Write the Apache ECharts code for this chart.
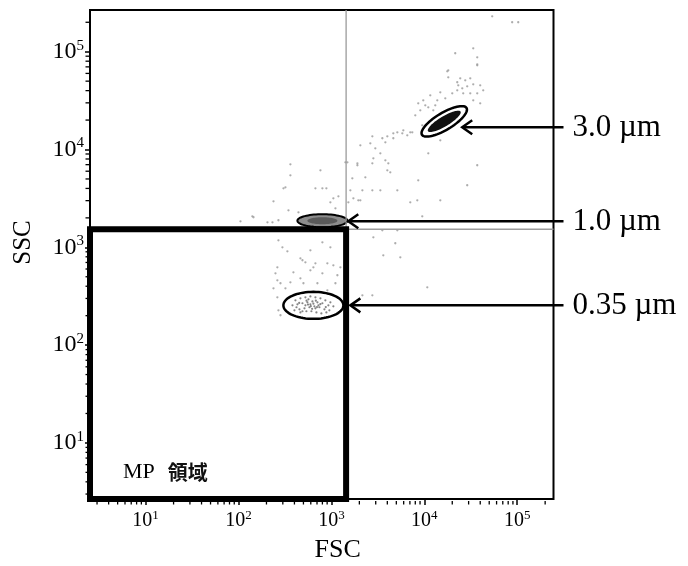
<!DOCTYPE html>
<html><head><meta charset="utf-8">
<script src="https://cdn.jsdelivr.net/npm/echarts@6/dist/echarts.min.js"></script>
<style>html,body{margin:0;padding:0;background:#fff}#c{width:688px;height:566px}</style>
</head><body><div id="c"></div>
<script>
// ---- axis ranges and ticks ----
const X_MIN = 2.52, X_MAX = 246000;
const Y_MIN = 2.67, Y_MAX = 267000;
const minorTickValues = [3,4,5,6,7,8,9,20,30,40,50,60,70,80,90,200,300,400,500,600,700,800,900,
  2000,3000,4000,5000,6000,7000,8000,9000,20000,30000,40000,50000,60000,70000,80000,90000,200000];

// ---- gates ----
const GATE_FSC = 1440, GATE_SSC = 1530;
const gateLabel = ['MP', '領域'];

// ---- bead populations ----
const beadLabels = ['3.0 µm', '1.0 µm', '0.35 µm'];
const beadFSC = [16400, 800, 640];
const beadSSC = [19400, 1870, 255];
const arrowTipFSC = [25600, 1520, 1600];
const arrowSSC = [16900, 1845, 255];

// ---- events (FSC, SSC) ----
const sparseEvents = [
  [362,7060],[362,5450],[305,4010],[238,2955],[762,6130],[800,4010],[883,4010],[1050,3170],[1190,3320],
  [975,2885],[1105,2505],[345,2390],[442,2280],[141,2075],[105,1845],[232,1800],[269,1890],[145,2030],
  [205,1800],[1415,7400],[1905,7230],[1680,5080],[1950,3025],[1523,2885],[673,4010],[320,4105],
  [269,1180],[297,1000],[336,910],[800,1125],[975,1000],[594,931],[464,772],[525,703],[673,686],
  [905,686],[1050,655],[250,542],[390,555],[594,582],[800,542],[1160,518],[283,429],[362,439],[500,429],
  [707,429],[1105,429],[238,381],[905,363],[262,308],[269,227],[283,202],[488,737],[640,625],[1250,625],
  [262,625],[262,460],[464,482],[320,381],
  [2760,13650],[3535,13030],[4000,13650],[4640,14640],[5800,14640],[6560,13970],[7430,14990],[3810,11850],
  [2050,11040],[2625,11570],[2970,10290],[3365,9150],[2830,8130],[3810,7760],[4100,7230],[1905,6900],
  [2760,7230],[4000,6130],[4305,5850],[11040,9150],[1487,7400],[2320,5200],[8610,4845],[1600,3825],
  [2155,3825],[2760,3825],[3365,3825],[5125,3825],[1725,3170],[2050,3025],[7065,2885],[8410,3025],
  [14870,3025],[9510,2075],[3535,1493],[5125,1493],[2830,1265],[37150,6900],[28980,4310],[4875,1100],
  [10770,390],[5520,790],[3620,829],[2760,323],[2155,323],
  [8610,29670],[9750,31860],[11600,35850],[13800,31860],[16830,33400],[20000,37550],[22640,40300],
  [25630,42200],[28980,44300],[33650,46400],[40000,45300],[43090,40300],[31250,37550],[26250,37550],
  [37150,37550],[23210,45300],[18120,54700],[22640,48700],[11040,27000],[12500,25170],[9055,25170],
  [8000,22390],[5125,14990],[5945,15710],[7065,14990],[4640,13030],[18120,64500],[37150,72600],
  [14870,12420],[40000,29670],[33650,31860],[9510,17680],[14870,38450],[10250,28300],[13130,28300],
  [27600,51000],[31250,53500],
  [53830,230000],[88300,200000],[102600,200000],[33650,108400],[21530,96400],[37150,87700],
  [37150,74300],[17670,63000],[24380,53500]
];
const cluster035Events = [
  [410,287],[464,301],[525,308],[594,315],[673,308],[762,301],[861,287],[975,274],
  [381,255],[431,261],[488,268],[552,274],[625,280],[707,274],[800,268],[928,255],[1050,249],
  [400,227],[453,232],[513,238],[580,244],[656,249],[743,244],[841,232],[951,227],
  [464,216],[538,222],[609,222],[690,216],[780,211],[594,261],[673,238],[525,255],[725,255],
  [566,294],[488,222],[421,244],[883,216],[600,250],[640,265],[560,260],[700,245],[620,235],
  [680,285],[540,285],[760,262],[450,270],[870,245]
];

// ---- styles (pixel sizes) ----
const ellipseStyles = [
  {rx: 26, ry: 8.5, angle: 31, lw: 2.5, fill: null, innerRx: 19, innerRy: 5, innerFill: '#111'},
  {rx: 25, ry: 6.5, angle: 0, lw: 2, fill: '#8c8c8c', innerRx: 15, innerRy: 3.5, innerFill: '#5a5a5a'},
  {rx: 30, ry: 13.5, angle: 0, lw: 2.5, fill: null}
];
const SERIF = 'Liberation Serif';

function ellipsePts(cx, cy, rx, ry, deg) {
  const a = deg * Math.PI / 180, pts = [];
  for (let i = 0; i < 72; i++) {
    const t = i / 72 * 2 * Math.PI;
    const ex = rx * Math.cos(t), ey = ry * Math.sin(t);
    pts.push([cx + ex * Math.cos(a) - ey * Math.sin(a), cy - (ex * Math.sin(a) + ey * Math.cos(a))]);
  }
  return pts;
}
function powLabel(v) {
  const l = Math.log10(v), e = Math.round(l);
  if (Math.abs(l - e) > 1e-6) return '';
  return '{b|10}{s|' + e + '}';
}

const chart = echarts.init(document.getElementById('c'), null, {renderer: 'canvas'});
const option = {
  animation: false,
  backgroundColor: '#fff',
  grid: {left: 90, top: 10, right: 134.5, bottom: 67, show: true, borderColor: '#000', borderWidth: 2,
         backgroundColor: 'transparent', containLabel: false, outerBoundsMode: 'none'},
  xAxis: {
    type: 'log', logBase: 10, min: X_MIN, max: X_MAX,
    splitLine: {show: false}, axisLine: {show: false},
    axisTick: {show: true, length: 6, lineStyle: {color: '#000', width: 1.5}},
    axisLabel: {formatter: powLabel, margin: 10, showMinLabel: false, showMaxLabel: false,
      rich: {b: {fontFamily: SERIF, fontSize: 20, color: '#000'},
             s: {fontFamily: SERIF, fontSize: 13, color: '#000', padding: [0, 0, 10, 0]}}},
    name: 'FSC', nameLocation: 'middle', nameGap: 38,
    nameTextStyle: {fontFamily: SERIF, fontSize: 26, color: '#000', padding: [0, 0, 0, 32]}
  },
  yAxis: {
    type: 'log', logBase: 10, min: Y_MIN, max: Y_MAX,
    splitLine: {show: false}, axisLine: {show: false},
    axisTick: {show: true, length: 5, lineStyle: {color: '#000', width: 1.5}},
    axisLabel: {formatter: powLabel, margin: 6, showMinLabel: false, showMaxLabel: false,
      rich: {b: {fontFamily: SERIF, fontSize: 24, color: '#000'},
             s: {fontFamily: SERIF, fontSize: 15, color: '#000', padding: [0, 0, 12, 0]}}},
    name: 'SSC', nameLocation: 'middle', nameGap: 54,
    nameTextStyle: {fontFamily: SERIF, fontSize: 25, color: '#000', padding: [0, 0, 0, 24]}
  },
  series: [
    {type: 'scatter', data: sparseEvents, symbolSize: 2.3, itemStyle: {color: '#999'}, silent: true, z: 2},
    {type: 'scatter', data: cluster035Events, symbolSize: 2.2, itemStyle: {color: '#666'}, silent: true, z: 2},
    // bead population ellipses
    {type: 'custom', clip: false, z: 3, silent: true,
     data: beadFSC.map((f, i) => [f, beadSSC[i]]),
     renderItem: (params, api) => {
       const i = params.dataIndex, st = ellipseStyles[i];
       const c = api.coord([api.value(0), api.value(1)]);
       const children = [];
       if (st.fill) children.push({type: 'polygon', shape: {points: ellipsePts(c[0], c[1], st.rx, st.ry, st.angle)}, style: {fill: st.fill}});
       if (st.innerFill) children.push({type: 'polygon', shape: {points: ellipsePts(c[0], c[1], st.innerRx, st.innerRy, st.angle)}, style: {fill: st.innerFill}});
       children.push({type: 'polygon', shape: {points: ellipsePts(c[0], c[1], st.rx, st.ry, st.angle)}, style: {fill: 'none', stroke: '#000', lineWidth: st.lw}});
       return {type: 'group', children};
     }},
    // quadrant lines
    {type: 'custom', clip: false, z: 3, silent: true, data: [[GATE_FSC, GATE_SSC]],
     renderItem: (params, api) => {
       const p = api.coord([api.value(0), api.value(1)]);
       const top = api.coord([api.value(0), Y_MAX]);
       const right = api.coord([X_MAX, api.value(1)]);
       return {type: 'group', children: [
         {type: 'line', shape: {x1: p[0], y1: p[1], x2: top[0], y2: top[1]}, style: {stroke: '#9a9a9a', lineWidth: 1.3}},
         {type: 'line', shape: {x1: p[0], y1: p[1], x2: right[0], y2: right[1]}, style: {stroke: '#9a9a9a', lineWidth: 1.3}}
       ]};
     }},
    // MP gate
    {type: 'custom', clip: false, z: 4, silent: true, data: [[GATE_FSC, GATE_SSC]],
     renderItem: (params, api) => {
       const p0 = api.coord([X_MIN, Y_MIN]);
       const p1 = api.coord([api.value(0), api.value(1)]);
       return {type: 'group', children: [
         {type: 'rect', shape: {x: p0[0], y: p1[1], width: p1[0] - p0[0], height: p0[1] - p1[1]},
          style: {fill: 'none', stroke: '#000', lineWidth: 6}},
         {type: 'text', x: p0[0] + 33, y: p0[1] - 27,
          style: {text: '{a|' + gateLabel[0] + '}{g|' + gateLabel[1] + '}', verticalAlign: 'middle', align: 'left',
            rich: {a: {fontFamily: SERIF, fontSize: 22, fill: '#000', padding: [0, 13, 0, 0]},
                   g: {fontFamily: 'Noto Sans CJK JP', fontSize: 20, fontWeight: 'bold', fill: '#111'}}}}
       ]};
     }},
    // arrows and labels
    {type: 'custom', clip: false, z: 5, silent: true,
     data: arrowTipFSC.map((f, i) => [f, arrowSSC[i]]),
     renderItem: (params, api) => {
       const i = params.dataIndex;
       const tip = api.coord([api.value(0), api.value(1)]);
       const edge = api.coord([X_MAX, api.value(1)]);
       const tail = edge[0] + 10;
       return {type: 'group', children: [
         {type: 'line', shape: {x1: tip[0] + 1, y1: tip[1], x2: tail, y2: tip[1]}, style: {stroke: '#000', lineWidth: 2.5}},
         {type: 'polyline', shape: {points: [[tip[0] + 10, tip[1] - 7], [tip[0], tip[1]], [tip[0] + 10, tip[1] + 7]]},
          style: {fill: 'none', stroke: '#000', lineWidth: 2.5}},
         {type: 'text', x: tail + 9, y: tip[1] + 1,
          style: {text: beadLabels[i], fontFamily: SERIF, fontSize: 31, fill: '#000', align: 'left', verticalAlign: 'middle'}}
       ]};
     }},
    // minor ticks x
    {type: 'custom', clip: false, z: 5, silent: true,
     data: minorTickValues.filter(v => v > X_MIN && v < X_MAX).map(v => [v, Y_MIN]),
     renderItem: (params, api) => {
       const p = api.coord([api.value(0), api.value(1)]);
       return {type: 'line', shape: {x1: p[0], y1: p[1] + 2, x2: p[0], y2: p[1] + 5.5}, style: {stroke: '#000', lineWidth: 1.3}};
     }},
    // minor ticks y
    {type: 'custom', clip: false, z: 5, silent: true,
     data: minorTickValues.filter(v => v > Y_MIN && v < Y_MAX).map(v => [X_MIN, v]),
     renderItem: (params, api) => {
       const p = api.coord([api.value(0), api.value(1)]);
       return {type: 'line', shape: {x1: p[0] - 4.5, y1: p[1], x2: p[0] - 1, y2: p[1]}, style: {stroke: '#000', lineWidth: 1.3}};
     }}
  ]
};
chart.setOption(option);
</script>
</body></html>
